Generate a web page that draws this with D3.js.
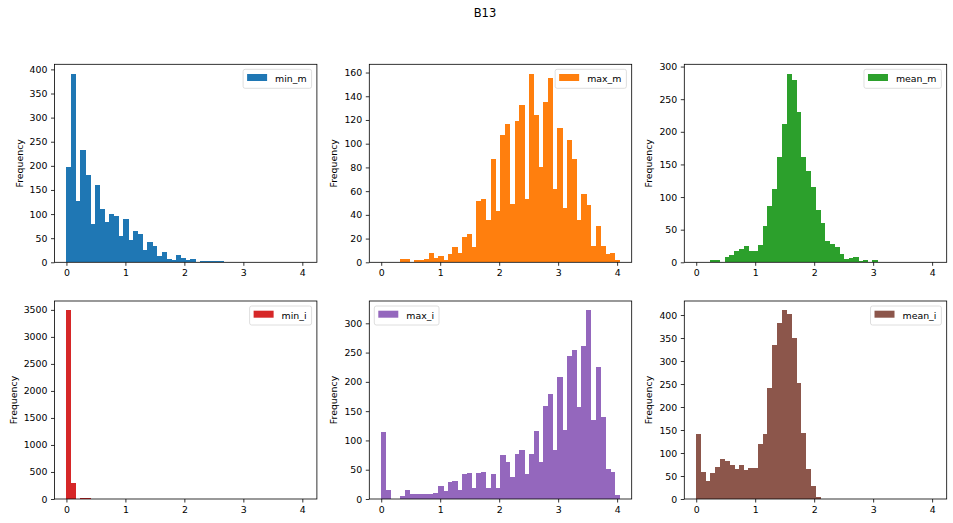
<!DOCTYPE html>
<html>
<head>
<meta charset="utf-8">
<script src="https://cdn.jsdelivr.net/npm/d3@7"></script>
<style>
  html, body { margin: 0; padding: 0; background: #fff; }
  svg { display: block; font-family: "DejaVu Sans", sans-serif; }
</style>
</head>
<body>
<svg id="chart" width="953" height="523"></svg>
<script>
// ---------------- data ----------------
const title = "B13";
const seriesNames = ["min_m", "max_m", "mean_m", "min_i", "max_i", "mean_i"];
const seriesColors = ["#1f77b4", "#ff7f0e", "#2ca02c", "#d62728", "#9467bd", "#8c564b"];
const binRange = [0, 4.045];   // shared histogram range, 50 bins
const binCount = 50;
const xTicks = [0, 1, 2, 3, 4];

const minM = [198, 391, 127, 233, 181, 80, 161, 111, 84, 100,
              95, 55, 90, 46, 65, 59, 25, 42, 33, 13,
              21, 6, 4, 15, 8, 4, 6, 0, 2, 2,
              2, 2, 2, 0, 0, 0, 0, 0, 0, 0,
              0, 0, 0, 0, 0, 0, 0, 0, 0, 0];
const maxM = [0, 0, 0, 0, 3, 3, 0, 2, 2, 3,
              8, 4, 5, 2, 7, 13, 8, 21, 24, 13,
              52, 53, 36, 87, 43, 107, 117, 49, 119, 133,
              53, 159, 124, 80, 135, 155, 62, 113, 46, 103,
              87, 36, 58, 48, 14, 31, 14, 7, 8, 2];
const meanM = [0, 0, 0, 3, 3, 1, 8, 11, 17, 20,
               25, 17, 18, 26, 55, 86, 112, 161, 212, 289,
               280, 230, 161, 140, 115, 80, 60, 32, 28, 23,
               12, 5, 6, 8, 2, 3, 0, 3, 0, 0,
               0, 0, 0, 0, 0, 0, 0, 0, 0, 0];
const minI = [3490, 297, 0, 20, 15, 0, 0, 0, 0, 0,
              0, 0, 0, 0, 0, 0, 0, 0, 0, 0,
              0, 0, 0, 0, 0, 0, 0, 0, 0, 0,
              0, 0, 0, 0, 0, 0, 0, 0, 0, 0,
              0, 0, 0, 0, 0, 0, 0, 0, 0, 0];
const maxI = [115, 15, 0, 0, 5, 15, 9, 9, 9, 9,
              9, 10, 22, 14, 29, 31, 15, 43, 44, 19,
              44, 46, 19, 43, 19, 75, 63, 38, 77, 84,
              43, 77, 116, 63, 159, 180, 83, 209, 118, 245,
              255, 157, 262, 322, 135, 226, 140, 51, 46, 7];
const meanI = [141, 59, 39, 57, 70, 87, 83, 74, 65, 74,
               63, 67, 67, 120, 141, 242, 335, 383, 410, 403,
               349, 252, 144, 65, 28, 5, 0, 0, 0, 0,
               0, 0, 0, 0, 0, 0, 0, 0, 0, 0,
               0, 0, 0, 0, 0, 0, 0, 0, 0, 0];

const yTicksMinM = [0, 50, 100, 150, 200, 250, 300, 350, 400];
const yTicksMaxM = [0, 20, 40, 60, 80, 100, 120, 140, 160];
const yTicksMeanM = [0, 50, 100, 150, 200, 250, 300];
const yTicksMinI = [0, 500, 1000, 1500, 2000, 2500, 3000, 3500];
const yTicksMaxI = [0, 50, 100, 150, 200, 250, 300];
const yTicksMeanI = [0, 50, 100, 150, 200, 250, 300, 350, 400];

const legendSide = ["right", "right", "right", "right", "left", "right"];

// ---------------- layout ----------------
const seriesValues = [minM, maxM, meanM, minI, maxI, meanI];
const seriesTicks = [yTicksMinM, yTicksMaxM, yTicksMeanM, yTicksMinI, yTicksMaxI, yTicksMeanI];

const colLeft = [54.5, 369.3, 684.3];
const rowTop = [64.3, 301];
const axW = 262.4, axH = 198;
const fontSize = 9.4;

const svg = d3.select("#chart");

svg.append("text")
  .attr("x", 485).attr("y", 17)
  .attr("text-anchor", "middle")
  .attr("font-size", 11.5)
  .attr("fill", "#000")
  .text(title);

const binW = (binRange[1] - binRange[0]) / binCount;
const span = binRange[1] - binRange[0];

seriesNames.forEach((name, i) => {
  const col = i % 3, row = Math.floor(i / 3);
  const left = colLeft[col], top = rowTop[row];
  const vals = seriesValues[i];
  const yMaxData = d3.max(vals);

  const x = d3.scaleLinear()
    .domain([binRange[0] - 0.05 * span, binRange[1] + 0.05 * span])
    .range([0, axW]);
  const y = d3.scaleLinear()
    .domain([0, yMaxData * 1.05])
    .range([axH, 0]);

  const g = svg.append("g").attr("transform", `translate(${left},${top})`);

  // bars
  g.append("g")
    .attr("shape-rendering", "crispEdges")
    .selectAll("rect")
    .data(vals.map((v, k) => ({ v, x0: binRange[0] + k * binW, x1: binRange[0] + (k + 1) * binW })))
    .join("rect")
    .attr("x", d => x(d.x0) - 0.3)
    .attr("width", d => x(d.x1) - x(d.x0) + 0.6)
    .attr("y", d => y(d.v))
    .attr("height", d => axH - y(d.v))
    .attr("fill", seriesColors[i]);

  // x axis
  const xa = g.append("g")
    .attr("transform", `translate(0,${axH})`)
    .call(d3.axisBottom(x).tickValues(xTicks).tickFormat(d3.format("d")).tickSize(3.5).tickPadding(3.5));
  xa.select(".domain").remove();
  xa.selectAll("line").attr("stroke", "#000").attr("stroke-width", 0.8);
  xa.selectAll("text").attr("font-size", fontSize).attr("font-family", "DejaVu Sans").attr("fill", "#000");

  // y axis
  const ya = g.append("g")
    .call(d3.axisLeft(y).tickValues(seriesTicks[i]).tickFormat(d3.format("d")).tickSize(3.5).tickPadding(3.5));
  ya.select(".domain").remove();
  ya.selectAll("line").attr("stroke", "#000").attr("stroke-width", 0.8);
  ya.selectAll("text").attr("font-size", fontSize).attr("font-family", "DejaVu Sans").attr("fill", "#000");

  let maxTW = 0;
  ya.selectAll("text").each(function () { maxTW = Math.max(maxTW, this.getComputedTextLength()); });

  // y label
  g.append("text")
    .attr("transform", `translate(${-3.5 - 3.5 - maxTW - 7},${axH / 2}) rotate(-90)`)
    .attr("text-anchor", "middle")
    .attr("font-size", fontSize)
    .attr("fill", "#000")
    .text("Frequency");

  // spines
  g.append("rect")
    .attr("x", 0).attr("y", 0).attr("width", axW).attr("height", axH)
    .attr("fill", "none").attr("stroke", "#000").attr("stroke-width", 0.8);

  // legend
  const lg = g.append("g");
  const box = lg.append("rect")
    .attr("fill", "#fff").attr("fill-opacity", 0.8)
    .attr("stroke", "#d6d6d6").attr("stroke-width", 0.8)
    .attr("rx", 2);
  const txt = lg.append("text")
    .attr("font-size", fontSize).attr("fill", "#000")
    .text(name);
  const tw = txt.node().getComputedTextLength();
  const bw = 4 + 20 + 8 + tw + 5;
  const bh = 19;
  const bx = legendSide[i] === "right" ? axW - 5.3 - bw : 5;
  const by = 5;
  box.attr("x", bx).attr("y", by).attr("width", bw).attr("height", bh);
  lg.append("rect")
    .attr("x", bx + 4).attr("y", by + 4.7).attr("width", 20).attr("height", 7)
    .attr("fill", seriesColors[i]);
  txt.attr("x", bx + 32).attr("y", by + 12.6);
});
</script>
</body>
</html>
